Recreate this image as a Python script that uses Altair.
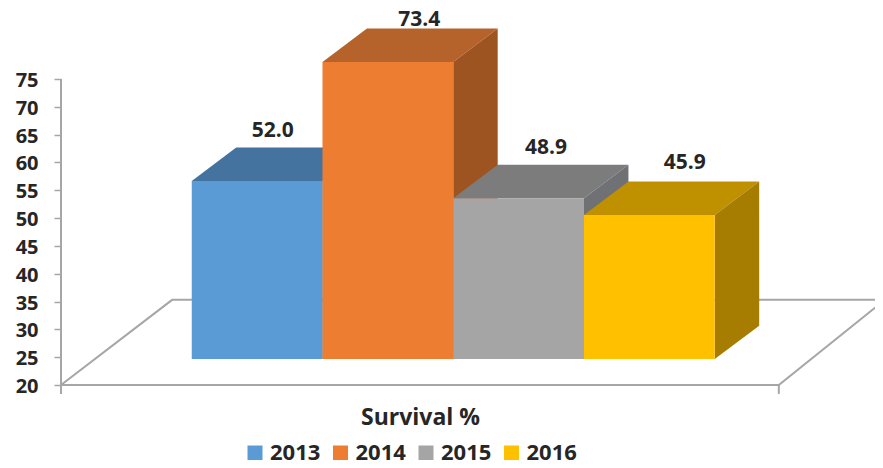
import altair as alt
import pandas as pd

# ---- chart values ----
years = ["2013", "2014", "2015", "2016"]
survival = [52.0, 73.4, 48.9, 45.9]
front_colors = ["#5B9BD5", "#ED7D31", "#A5A5A5", "#FFC000"]
top_colors = ["#44739F", "#B5632A", "#7C7C7C", "#BF9000"]
side_colors = ["#3F6C96", "#9E5420", "#6F7175", "#A67D00"]
y_ticks = [20, 25, 30, 35, 40, 45, 50, 55, 60, 65, 70, 75]

# ---- 3-D projection settings, in scale units ----
FONT = "Open Sans"
TEXT = "#262626"
GREY = "#A6A6A6"
DEPTH_X, DEPTH_Y = 0.34, 6.0          # bar depth
FLOOR_X, FLOOR_Y = 0.85, 15.3         # floor depth
FLOOR_END = 5.49                      # right front corner of the floor
BASE_LIFT = 4.67                      # bars stand inside the floor
AXIS_MIN = 20
TICK_DOWN = 18.4
label_shift_x = [0.12, 0.24, 0.21, 0.27]
label_lift = [3.0, 1.6, 3.1, 3.4]

VIEW_H = 452
y_low = 20 - (8 + VIEW_H - 385) / 5.5636
x_scale = alt.Scale(domain=[0, 6.2256], nice=False, zero=False)
y_scale = alt.Scale(domain=[y_low, 87.76], nice=False, zero=False)
color_scale = alt.Scale(domain=years, range=front_colors)

x_axis = alt.Axis(
    title="Survival %", labels=False, ticks=False, domain=False, grid=False,
    titleFont=FONT, titleFontSize=23, titleFontWeight="bold", titleColor=TEXT,
    titleX=359, titleY=-43, titleAnchor="middle", titleAlign="center",
    titleBaseline="middle")
y_axis = alt.Axis(
    values=y_ticks, title=None, domain=False, grid=False,
    tickSize=7, tickColor=GREY, tickWidth=1.5,
    labelFont=FONT, labelFontSize=20, labelFontWeight="bold", labelColor=TEXT,
    labelPadding=16, labelOffset=1.5, labelOverlap=False)


def X(field, **kw):
    return alt.X(field, type="quantitative", scale=x_scale, axis=x_axis, **kw)


def Y(field, **kw):
    return alt.Y(field, type="quantitative", scale=y_scale, axis=y_axis, **kw)


layers = []

# axis line and floor frame
layers.append(
    alt.Chart(pd.DataFrame({"x": [0, FLOOR_END], "y": [TICK_DOWN, TICK_DOWN],
                            "y2": [y_ticks[-1], AXIS_MIN]}))
    .mark_rule(color=GREY, strokeWidth=2)
    .encode(x=X("x"), y=Y("y"), y2="y2:Q")
)
floor = pd.DataFrame({
    "x": [0, FLOOR_X, 6.30, FLOOR_END, 0],
    "y": [AXIS_MIN, AXIS_MIN + FLOOR_Y, AXIS_MIN + FLOOR_Y, AXIS_MIN, AXIS_MIN],
    "i": [0, 1, 2, 3, 4],
})
layers.append(
    alt.Chart(floor).mark_line(color=GREY, strokeWidth=2, clip=True)
    .encode(x=X("x"), y=Y("y"), order="i:Q")
)

# bars, painted left to right: top, side, front
for i, (year, value) in enumerate(zip(years, survival)):
    x0, x1 = i + 1, i + 2
    base, top = AXIS_MIN + BASE_LIFT, value + BASE_LIFT

    top_face = pd.DataFrame({
        "y": [top, top + DEPTH_Y],
        "xa": [x0, x0 + DEPTH_X],
        "xb": [x1, x1 + DEPTH_X],
    })
    layers.append(
        alt.Chart(top_face).mark_area(orient="horizontal", color=top_colors[i])
        .encode(x=X("xa", stack=None), x2="xb:Q", y=Y("y"))
    )
    side_face = pd.DataFrame({
        "x": [x1, x1 + DEPTH_X],
        "ya": [base, base + DEPTH_Y],
        "yb": [top, top + DEPTH_Y],
    })
    layers.append(
        alt.Chart(side_face).mark_area(orient="vertical", color=side_colors[i])
        .encode(x=X("x"), y=Y("ya", stack=None), y2="yb:Q")
    )
    front_face = pd.DataFrame({
        "year": [year], "xa": [x0], "xb": [x1], "ya": [base], "yb": [top],
    })
    layers.append(
        alt.Chart(front_face).mark_rect()
        .encode(
            x=X("xa"), x2="xb:Q", y=Y("ya"), y2="yb:Q",
            color=alt.Color("year:N", scale=color_scale, legend=alt.Legend(
                title=None, orient="none", direction="horizontal", columns=4,
                legendX=183, legendY=434,
                symbolType="square", symbolSize=225, symbolStrokeWidth=0,
                labelFont=FONT, labelFontSize=22, labelFontWeight="bold",
                labelColor=TEXT, labelOffset=4, columnPadding=8.5,
            )),
        )
    )

# value labels
labels = pd.DataFrame({
    "x": [i + 1.5 + s for i, s in enumerate(label_shift_x)],
    "y": [v + BASE_LIFT + DEPTH_Y + l for v, l in zip(survival, label_lift)],
    "t": [f"{v:.1f}" for v in survival],
})
layers.append(
    alt.Chart(labels).mark_text(
        font=FONT, fontSize=21, fontWeight="bold", color=TEXT,
        align="center", baseline="middle",
    ).encode(x=X("x"), y=Y("y"), text="t:N")
)

chart = (
    alt.layer(*layers)
    .properties(
        width=814, height=VIEW_H,
        autosize=alt.AutoSizeParams(type="none"),
        padding={"left": 53, "top": 0, "right": 0, "bottom": 0},
        background="white",
    )
    .configure_view(stroke=None)
)
chart.save("out.html", embed_options={"renderer": "svg", "actions": False})
